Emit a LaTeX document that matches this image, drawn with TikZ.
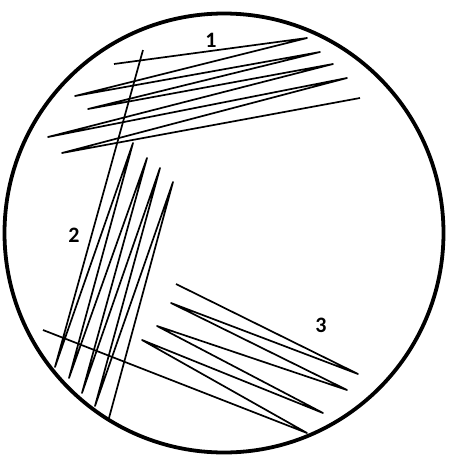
\documentclass[tikz,border=0pt]{standalone}
\usepackage{fontspec}
\setmainfont{Carlito}
\begin{document}
\begin{tikzpicture}[x=1pt,y=-1pt,
  plate/.style={line width=3.8pt},
  streak/.style={line width=1.7pt, line join=round},
  zonelabel/.style={font=\fontsize{22}{22}\selectfont\bfseries, inner sep=0pt}]
\useasboundingbox (0,0) rectangle (449,469);
\node[draw, plate, circle, minimum size=439pt, inner sep=0pt] (dish) at (224,233) {};
% zone 1
\coordinate (a0) at (114,64);
\draw[streak] (a0) -- (307,38) -- (75,96) -- (320,52) -- (88,109) -- (333,64) -- (48,137) -- (347,78) -- (62,153) -- (360,98);
% zone 2
\coordinate (b0) at (143,50);
\draw[streak] (b0) -- (55,367) -- (133,143) -- (69,378) -- (147,158) -- (82,393) -- (160,168) -- (95,406) -- (173,182) -- (109,418);
% zone 3
\coordinate (c0) at (43,330);
\draw[streak] (c0) -- (307,433) -- (142,340) -- (323,413) -- (157,326) -- (347,390) -- (171,303) -- (358,374) -- (176,284);
\node[zonelabel] (l1) at (211,40) {1};
\node[zonelabel] (l2) at (74,235) {2};
\node[zonelabel] (l3) at (321,325) {3};
\end{tikzpicture}
\end{document}
